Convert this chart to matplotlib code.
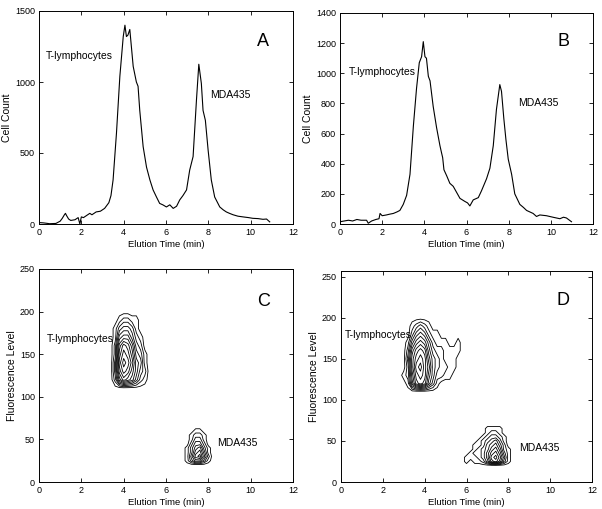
import numpy as np
import matplotlib.pyplot as plt

plt.rcParams['font.family'] = ['Liberation Sans', 'DejaVu Sans']

# --- panel A: cell count vs elution time
tA = [0.0, 0.2, 0.36, 0.5, 0.8, 1.0, 1.1, 1.2, 1.25, 1.3, 1.4, 1.5, 1.7, 1.85, 1.93, 2.0, 2.1,
      2.3, 2.4, 2.5, 2.7, 2.9, 3.1, 3.3, 3.4, 3.5, 3.66, 3.82, 3.98, 4.06, 4.13, 4.2, 4.29,
      4.45, 4.6, 4.68, 4.76, 4.92, 5.08, 5.24, 5.39, 5.55, 5.7, 5.85, 6.02, 6.18, 6.34, 6.5,
      6.65, 6.8, 6.97, 7.12, 7.28, 7.44, 7.55, 7.67, 7.75, 7.86, 7.99, 8.14, 8.3, 8.54, 8.7,
      8.85, 9.0, 9.17, 9.4, 9.64, 9.9, 10.1, 10.35, 10.58, 10.75, 10.9]
cA = [10, 8, 5, 2, 4, 20, 40, 65, 75, 60, 35, 25, 30, 45, 0, 50, 45,
      65, 75, 65, 85, 90, 110, 150, 200, 310, 640, 1040, 1320, 1400, 1320, 1330, 1370,
      1110, 1000, 970, 800, 545, 400, 310, 240, 190, 145, 135, 120, 135, 110, 125,
      170, 200, 240, 380, 475, 875, 1125, 990, 800, 730, 520, 310, 190, 120, 100,
      85, 75, 65, 55, 50, 45, 40, 38, 33, 35, 15]

# --- panel B
tB = [0.0, 0.2, 0.4, 0.6, 0.8, 1.0, 1.26, 1.34, 1.5, 1.7, 1.85, 1.9, 2.0, 2.2, 2.35, 2.53,
      2.7, 2.84, 3.0, 3.16, 3.32, 3.48, 3.63, 3.76, 3.87, 3.95, 4.03, 4.1, 4.19, 4.27, 4.42,
      4.58, 4.74, 4.82, 4.87, 4.93, 5.06, 5.21, 5.37, 5.53, 5.69, 5.92, 6.05, 6.16, 6.32,
      6.56, 6.71, 6.95, 7.11, 7.27, 7.42, 7.58, 7.66, 7.77, 7.87, 7.98, 8.14, 8.29, 8.53,
      8.7, 8.85, 9.16, 9.32, 9.48, 9.79, 10.1, 10.43, 10.6, 10.74, 10.98]
cB = [15, 20, 25, 20, 30, 25, 25, 5, 20, 30, 35, 70, 55, 60, 65, 70,
      80, 90, 130, 190, 330, 650, 900, 1070, 1110, 1210, 1110, 1100, 980, 950, 780,
      640, 520, 470, 440, 360, 320, 270, 250, 210, 170, 150, 140, 120, 160,
      175, 220, 300, 370, 520, 760, 925, 880, 700, 560, 430, 330, 200, 130,
      110, 90, 70, 50, 60, 55, 45, 35, 45, 40, 15]

# --- panel C: fluorescence contours (grid of counts)
tC1 = [3.4, 3.6, 3.8, 4.0, 4.2, 4.4, 4.6, 4.8, 5.0, 5.2]
fC1 = [110, 120, 130, 140, 150, 160, 170, 180, 190, 200]
zC1 = [[0, 0, 0, 0, 0, 0, 0, 0, 0, 0],
       [0, 2, 6, 8, 7, 6, 4, 2, 1, 0],
       [0, 3, 8, 10, 9, 7, 5, 3, 2, 0],
       [0, 3, 9, 11, 10, 8, 5, 4, 1, 0],
       [0, 2, 8, 10, 9, 7, 4, 3, 1, 0],
       [0, 2, 7, 9, 8, 6, 3, 2, 0, 0],
       [0, 1, 5, 6, 6, 4, 2, 1, 0, 0],
       [0, 1, 3, 4, 4, 3, 1, 0, 0, 0],
       [0, 0, 1, 2, 2, 1, 1, 0, 0, 0],
       [0, 0, 0, 0, 0, 0, 0, 0, 0, 0]]
tC2 = [6.8, 7.0, 7.2, 7.4, 7.6, 7.8, 8.0, 8.2]
fC2 = [15, 20, 25, 30, 35, 40, 45, 50, 55, 60, 65]
zC2 = [[0, 0, 0, 0, 0, 0, 0, 0],
       [0, 0, 0, 0, 0, 0, 0, 0],
       [0, 1, 3, 5, 5, 3, 1, 0],
       [0, 1, 4, 7, 8, 5, 2, 0],
       [0, 1, 3, 6, 7, 4, 1, 0],
       [0, 1, 3, 5, 6, 3, 1, 0],
       [0, 0, 2, 4, 4, 2, 0, 0],
       [0, 0, 1, 3, 3, 1, 0, 0],
       [0, 0, 1, 2, 2, 1, 0, 0],
       [0, 0, 0, 1, 1, 0, 0, 0],
       [0, 0, 0, 0, 0, 0, 0, 0]]

# --- panel D
tD1 = [2.8, 3.0, 3.2, 3.4, 3.6, 3.8, 4.0, 4.2, 4.4, 4.6, 4.8, 5.0, 5.2, 5.4, 5.6, 5.8]
fD1 = [110, 120, 130, 140, 150, 160, 170, 180, 190, 200]
zD1 = [[0, 0, 0, 0, 0, 0, 0, 0, 0, 0, 0, 0, 0, 0, 0, 0],
       [0, 0, 1, 5, 8, 9, 8, 5, 3, 1, 0, 0, 0, 0, 0, 0],
       [0, 1, 2, 6, 9, 10, 9, 6, 4, 2, 2, 1, 1, 0, 0, 0],
       [0, 0, 2, 7, 10, 11, 9, 7, 4, 3, 2, 2, 1, 1, 0, 0],
       [0, 0, 3, 7, 9, 10, 9, 6, 4, 3, 2, 1, 1, 1, 0, 0],
       [0, 0, 2, 6, 8, 9, 8, 5, 3, 2, 2, 1, 1, 1, 1, 0],
       [0, 0, 1, 4, 6, 7, 6, 4, 2, 1, 1, 1, 0, 0, 1, 0],
       [0, 0, 0, 2, 4, 5, 4, 2, 1, 1, 0, 0, 0, 0, 0, 0],
       [0, 0, 0, 1, 2, 3, 2, 1, 0, 0, 0, 0, 0, 0, 0, 0],
       [0, 0, 0, 0, 0, 0, 0, 0, 0, 0, 0, 0, 0, 0, 0, 0]]
tD2 = [5.8, 6.0, 6.2, 6.4, 6.6, 6.8, 7.0, 7.2, 7.4, 7.6, 7.8, 8.0, 8.2, 8.4]
fD2 = [15, 20, 25, 30, 35, 40, 45, 50, 55, 60, 65, 70]
zD2 = [[0, 0, 0, 0, 0, 0, 0, 0, 0, 0, 0, 0, 0, 0],
       [0, 0, 0, 0, 0, 0, 0, 0, 0, 0, 0, 0, 0, 0],
       [0, 1, 0, 1, 1, 2, 4, 7, 8, 6, 3, 1, 0, 0],
       [0, 1, 1, 1, 2, 3, 5, 8, 9, 7, 4, 1, 0, 0],
       [0, 0, 1, 2, 2, 3, 5, 7, 8, 6, 3, 1, 0, 0],
       [0, 0, 0, 1, 2, 3, 4, 6, 7, 5, 2, 1, 0, 0],
       [0, 0, 0, 1, 1, 2, 4, 5, 6, 4, 2, 0, 0, 0],
       [0, 0, 0, 0, 1, 2, 3, 4, 5, 3, 1, 0, 0, 0],
       [0, 0, 0, 0, 0, 1, 2, 3, 3, 2, 1, 0, 0, 0],
       [0, 0, 0, 0, 0, 0, 1, 2, 2, 1, 0, 0, 0, 0],
       [0, 0, 0, 0, 0, 0, 1, 1, 1, 1, 0, 0, 0, 0],
       [0, 0, 0, 0, 0, 0, 0, 0, 0, 0, 0, 0, 0, 0]]

W, H = 602, 509
fig = plt.figure(figsize=(W/100, H/100), dpi=100)

def box(l, t, r, b):  # pixel box -> figure fraction
    return [l/W, 1 - b/H, (r - l)/W, (b - t)/H]

def style(ax):
    ax.tick_params(direction='in', top=True, right=True, length=3, width=0.6,
                   labelsize=6.5, pad=3)
    for s in ax.spines.values():
        s.set_linewidth(0.7)
    ax.set_xlim(0, 12)
    ax.set_xticks(range(0, 13, 2))
    ax.set_xlabel('Elution Time (min)', fontsize=6.8, labelpad=2)

axA = fig.add_axes(box(39, 11, 293, 224))
axA.plot(tA, cA, 'k', lw=0.8)
style(axA)
axA.set_ylim(0, 1500)
axA.set_yticks([0, 500, 1000, 1500])
axA.set_ylabel('Cell Count', fontsize=7.5, labelpad=2)
axA.text(0.3, 1180, 'T-lymphocytes', fontsize=7.5, va='center')
axA.text(8.1, 910, 'MDA435', fontsize=7.5, va='center')
axA.text(10.3, 1285, 'A', fontsize=13, va='center')

axB = fig.add_axes(box(340, 13, 593, 224))
axB.plot(tB, cB, 'k', lw=0.8)
style(axB)
axB.set_ylim(0, 1400)
axB.set_yticks(range(0, 1401, 200))
axB.set_ylabel('Cell Count', fontsize=7.5, labelpad=2)
axB.text(0.4, 1010, 'T-lymphocytes', fontsize=7.5, va='center')
axB.text(8.45, 800, 'MDA435', fontsize=7.5, va='center')
axB.text(10.3, 1209, 'B', fontsize=13, va='center')

lev = np.arange(0.5, 12, 1)

axC = fig.add_axes(box(39, 269, 293, 482))
axC.contour(tC1, fC1, np.array(zC1), levels=lev, colors='k', linewidths=0.6)
axC.contour(tC2, fC2, np.array(zC2), levels=lev, colors='k', linewidths=0.6)
style(axC)
axC.set_ylim(0, 250)
axC.set_yticks(range(0, 251, 50))
axC.set_ylabel('Fluorescence Level', fontsize=7.5, labelpad=2)
axC.text(0.36, 168, 'T-lymphocytes', fontsize=7.5, va='center')
axC.text(8.4, 46, 'MDA435', fontsize=7.5, va='center')
axC.text(10.3, 212, 'C', fontsize=13, va='center')

axD = fig.add_axes(box(341, 271, 592, 482))
axD.contour(tD1, fD1, np.array(zD1), levels=lev, colors='k', linewidths=0.6)
axD.contour(tD2, fD2, np.array(zD2), levels=lev, colors='k', linewidths=0.6)
style(axD)
axD.set_ylim(0, 257)
axD.set_yticks(range(0, 251, 50))
axD.set_ylabel('Fluorescence Level', fontsize=7.5, labelpad=2)
axD.text(0.2, 179, 'T-lymphocytes', fontsize=7.5, va='center')
axD.text(8.5, 41, 'MDA435', fontsize=7.5, va='center')
axD.text(10.3, 221, 'D', fontsize=13, va='center')

fig.savefig('out.png', dpi=100)
